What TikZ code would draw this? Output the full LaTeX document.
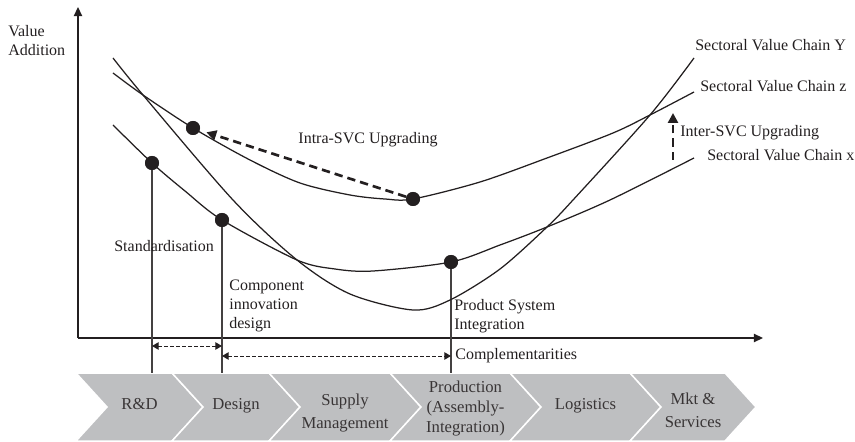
\documentclass[tikz,border=0pt]{standalone}
\usepackage{fontspec}
\setmainfont{Liberation Serif}
\usetikzlibrary{arrows.meta,positioning}
\definecolor{ink}{RGB}{35,31,32}
\definecolor{chevgray}{RGB}{190,191,193}

\begin{document}
\begin{tikzpicture}
				[x=0.6pt, y=-0.6pt,
				dot/.style={circle, fill=ink, inner sep=0pt, minimum size=8.4pt},
				chain/.style={draw=ink, line width=0.75pt},
				axis/.style={draw=ink, line width=0.8pt, -{Triangle[length=5.5pt,width=5pt]}},
				guide/.style={draw=ink!85, line width=0.7pt},
				span/.style={draw=ink, line width=0.6pt, dash pattern=on 2pt off 1.6pt, {Triangle[length=4pt,width=4.5pt]}-{Triangle[length=4pt,width=4.5pt]}},
				upgrade/.style={draw=ink, line width=1.6pt, dash pattern=on 5pt off 3pt, -{Triangle[length=6pt,width=6pt]}},
				txt/.style={font=\fontsize{9.6}{11.4}\selectfont, text=ink, inner sep=0pt, align=left},
				stage/.style={fill=chevgray, draw=white, line width=0.9pt},
				stagetext/.style={font=\fontsize{10}{12}\selectfont, text=ink!90, inner sep=0pt, align=center}]
				\useasboundingbox (0,0) rectangle (855,442);
				\foreach \l/\r/\ty/\txt [count=\i] in {76/172/404.5/{R\&D}, 172/269/406/{Design}, 269/390/413/{Supply\\[2pt]Management}, 390/510/408.5/{Production\\(Assembly-\\Integration)}, 510/630/406/{Logistics}, 630/725/410/{Mkt \&\\[2pt]Services}}
				{
					\path[stage] (\l,373) -- (\r,373) -- ++(31,34) -- (\r,441) -- (\l,441) -- ++(31,-34) -- cycle;
					\node [stagetext] 	(stage \i) 	at ({(\l+31+\r)/2},\ty) 	{\txt};
				}
				\coordinate 	(origin) 		at (78,338);
				\coordinate 	(y end) 		at (78,7);
				\coordinate 	(x end) 		at (763,338);
				\coordinate 	(band top) 		at (0,373);
				\coordinate 	(span 1) 		at (0,346);
				\coordinate 	(span 2) 		at (0,356);
				\coordinate 	(inter from) 	at (673,160);
				\coordinate 	(inter to) 		at (673,113);
				\draw [axis] (origin) -- (y end);
				\draw [axis] (origin) -- (x end);
				\node [dot] 	(dot rd) 		at (152,163) 	{};
				\node [dot] 	(dot design) 	at (222,220) 	{};
				\node [dot] 	(dot prod) 		at (451,262) 	{};
				\node [dot] 	(dot z high) 	at (193,128) 	{};
				\node [dot] 	(dot z low) 	at (413,199) 	{};
				\draw [guide] (dot rd) -- (dot rd |- band top);
				\draw [guide] (dot design) -- (dot design |- band top);
				\draw [guide] (dot prod) -- (dot prod |- band top);
				\draw [chain] plot [smooth] coordinates {(113,58) (143,95) (233,200) (297,260) (350,294) (413,310) (450,300) (500,269) (547,227) (573,200) (650,115) (694,58)};
				\draw [chain] plot [smooth] coordinates {(113,73) (143,95) (193,128) (250,160) (300,183) (350,195) (385,199) (413,199) (480,182) (547,158) (613,133) (650,115) (694,92)};
				\draw [chain] plot [smooth] coordinates {(113,125) (152,163) (185,191) (222,220) (297,260) (335,269) (373,271) (451,262) (500,245) (547,227) (610,200) (694,158)};
				\node [dot] at (dot rd) {};
				\node [dot] at (dot design) {};
				\node [dot] at (dot prod) {};
				\node [dot] at (dot z high) {};
				\node [dot] at (dot z low) {};
				\draw [upgrade, shorten >=4pt] (dot z low) -- (dot z high);
				\draw [upgrade] (inter from) -- (inter to);
				\draw [span] (dot rd |- span 1) -- (dot design |- span 1);
				\draw [span] (dot design |- span 2) -- (dot prod |- span 2);
				\node [txt, anchor=west] 		(value add) 	at (8,40.7) 		{Value\\Addition};
				\node [txt, anchor=base west] 	(svc y) 		at (695,50.5) 		{Sectoral Value Chain Y};
				\node [txt, anchor=base west] 	(svc z) 		at (700,91.5) 		{Sectoral Value Chain z};
				\node [txt, anchor=base west] 	(svc x) 		at (707,160.5) 		{Sectoral Value Chain x};
				\node [txt, anchor=base] 		(intra) 		at (368,143.7) 		{Intra-SVC Upgrading};
				\node [txt, anchor=base west] 	(inter) 		at (680,136.7) 		{Inter-SVC Upgrading};
				\node [txt, anchor=base west] 	(standard) 		at (114,251.7) 		{Standardisation};
				\node [txt, anchor=west] 		(component) 	at (229,306) 		{Component\\innovation\\design};
				\node [txt, anchor=west] 		(integration) 	at (454,316.5) 		{Product System\\Integration};
				\node [txt, anchor=base west] 	(compl) 		at (455,359.5) 		{Complementarities};
			\end{tikzpicture}
\end{document}
